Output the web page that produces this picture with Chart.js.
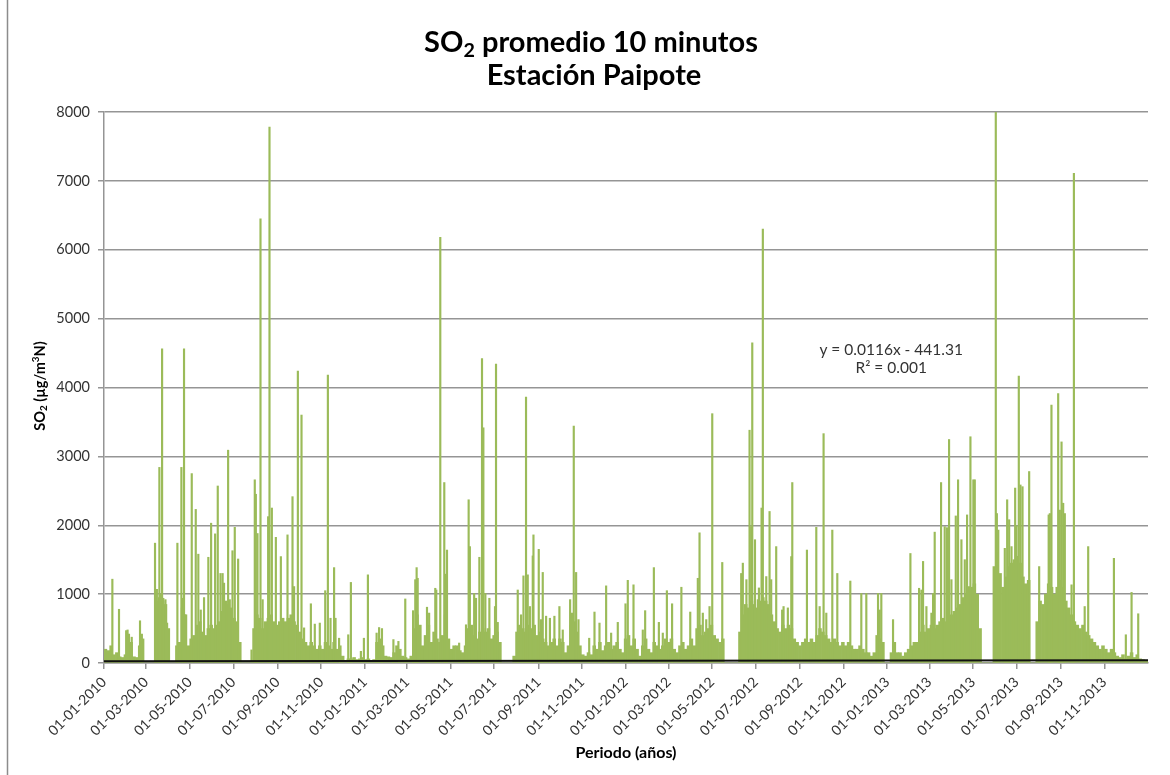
<!DOCTYPE html>
<html lang="es">
<head>
<meta charset="utf-8">
<title>SO2 promedio 10 minutos - Estación Paipote</title>
<script src="https://cdn.jsdelivr.net/npm/chart.js@4.4.1/dist/chart.umd.min.js"></script>
<style>
  html, body { margin: 0; padding: 0; background: #ffffff; }
  #marco { width: 1170px; height: 775px; position: relative; }
</style>
</head>
<body>
<div id="marco"><canvas id="grafico" width="1170" height="775"></canvas></div>
<script>
// Etiquetas del eje de tiempo (cada dos meses)
const etiquetasX = ['01-01-2010','01-03-2010','01-05-2010','01-07-2010','01-09-2010','01-11-2010',
  '01-01-2011','01-03-2011','01-05-2011','01-07-2011','01-09-2011','01-11-2011',
  '01-01-2012','01-03-2012','01-05-2012','01-07-2012','01-09-2012','01-11-2012',
  '01-01-2013','01-03-2013','01-05-2013','01-07-2013','01-09-2013','01-11-2013'];

// Marcas del eje Y (µg/m³N)
const ticksY = [0, 1000, 2000, 3000, 4000, 5000, 6000, 7000, 8000];

// Nivel típico de SO2 en bloques de 4 días, desde el 01-01-2010 (µg/m³N)
const pasoBase = 4;
const nivelBase = [
  200,180,250,120,150,90,80,120,420,300,
  90,80,250,350,0,0,0,0,900,950,
  900,850,500,0,0,250,300,800,700,250,
  350,400,550,600,450,400,500,550,500,550,
  600,750,900,850,800,650,600,300,0,0,
  0,0,500,700,650,500,600,650,700,600,
  550,600,650,600,650,700,600,550,450,350,
  300,250,300,250,200,250,200,300,250,200,
  300,200,250,100,0,60,60,80,50,60,
  80,50,60,30,50,300,350,250,100,90,
  80,150,250,200,100,80,60,100,500,700,
  550,250,400,550,300,450,350,300,400,700,
  350,200,250,250,180,150,250,500,550,400,
  350,450,500,450,500,350,400,450,300,0,
  0,0,0,100,450,550,500,450,550,500,
  550,400,450,350,300,250,300,350,250,350,
  300,150,250,550,600,450,250,120,100,150,
  120,250,200,300,180,250,300,200,250,300,
  200,150,350,400,250,350,200,100,250,350,
  200,150,300,250,200,250,350,300,350,200,
  150,250,300,200,250,350,250,500,550,400,
  450,500,550,400,350,300,350,0,0,0,
  0,0,450,700,850,800,900,850,800,900,
  950,900,850,700,600,500,450,550,500,550,
  500,350,300,250,300,350,300,350,300,400,
  500,450,400,350,300,350,300,250,300,250,
  300,250,200,200,250,200,150,150,100,150,
  400,350,300,0,0,150,300,150,150,100,
  150,200,250,300,300,450,550,450,500,550,
  500,550,600,650,600,650,700,750,800,850,
  950,1000,1050,1100,1150,1000,500,0,0,0,
  0,1400,1600,1300,1100,1250,1400,1450,1500,1550,
  1450,1250,1150,1200,0,0,600,900,850,1000,
  1150,1100,1000,1100,1200,1100,900,800,700,600,
  550,500,550,450,400,350,300,250,200,250,
  200,150,200,150,100,80,120,60,100,150,
  80,120,60,50,40,30
];

// Máximos puntuales: día desde el 01-01-2010 y valor (µg/m³N)
const picosDia = [
  11.7,21,31,33,38.8,50.4,53,
  71.4,74,77.5,78.5,81.3,83,86,88.3,
  102.7,108.3,110,112,113.5,122.8,128.4,132,135.4,140,146,149.9,155.5,159.2,163,166,168,173.7,176,179.8,183,187.7,
  206.4,
  211,212.5,214.8,219,222,229.7,231.6,234.9,240.5,247.5,256.8,263.8,266,271.3,276.4,280,289.5,295,302,309.6,313.3,317,322,324,329,
  341.8,345.5,359.5,363.7,369.3,381.5,385,389,
  405,412,421.6,432.5,435.6,437.5,439,452,455,463.6,465,470.6,476.2,477.6,480,497,506.6,510.3,512,518,520.6,525.3,529,530.9,533.7,539.3,547.2,548.6,551,
  579,583.6,587,590.6,593,596,600,601,608.4,611.6,614,618.7,624,630.3,637.3,642,652.3,655,657.4,660.7,664,679,686.4,693.4,702.7,709.7,719,729.8,
  733,741,754,757.3,769.5,776.5,782,787.7,795,808,820.4,831,833.4,838,842.8,847.4,851.2,865.2,
  891.7,894,899,903.4,905.7,907.2,911,915,916.5,920.2,922,926.8,931.4,933.7,940.7,949,951,957,961.8,963.2,983.7,996.8,1001.5,1007,1010.8,1019.2,1026.2,1044.4,1059.8,1066.8,1083.2,1085.5,1087.8,
  1104.2,1128.5,1140.6,1143.9,1146.2,1150.9,1157.9,1160.2,1162.5,1171.4,1176.5,1179.8,1182.6,1185.9,1192,1195.2,1199.9,1204.6,1207.8,1210.6,1212.5,1216.6,1218.6,
  1248,1249.5,1251.5,1260.6,1263.9,1266.7,1270,1275.1,1277,1280.2,1282.5,1285.4,1294.7,
  1308.7,1322,1323.6,1325.9,1335.3,1337.6,1340,1342.3,1344.6,1354,1357.3,1372.4,1377.3,1413.3,1430,1438,1447.3
];
const picosValor = [
  1217,780,470,480,375,613,420,
  1740,1070,2840,1000,4560,940,920,580,
  1740,2840,940,4560,700,2750,2230,1580,770,950,1535,2030,1875,2570,1300,1300,1160,3090,920,1630,1970,1510,
  190,
  2660,2450,1880,6450,920,2125,7780,2250,1825,1545,1860,2415,1110,4240,3600,510,860,565,580,1050,4180,650,1385,650,360,
  410,1170,170,360,1280,435,515,500,
  340,314,930,760,1210,1385,1230,810,725,1085,1060,6180,2620,1290,1640,290,555,2370,1690,1010,940,1535,4420,3415,1010,940,820,4340,590,
  1060,700,1265,3860,1280,820,1555,1860,1650,630,1315,680,650,680,820,480,920,725,3440,1315,630,360,740,580,1120,435,590,860,
  1200,1135,480,760,1385,590,435,1050,860,1100,740,1230,1890,725,630,820,3620,1460,
  1300,1450,1210,3380,1980,4650,1790,920,1090,2250,6300,1255,2200,1210,1690,770,820,800,1545,2620,1640,1970,820,3330,725,1930,1300,1190,1010,1010,1010,770,1010,
  630,1590,1085,1060,1475,820,725,1010,1900,2620,1980,1965,3245,1210,2135,2660,1790,1500,2150,1110,3285,2660,2660,
  8000,2170,1930,1665,2370,2080,1690,2540,1990,4165,2585,2560,2780,
  1400,2150,2170,3745,3910,2220,3210,2320,2170,1135,7110,820,1690,1520,410,1025,715
];

// Línea de tendencia lineal (x en número de serie de fecha)
const pendiente = 0.0116;
const intercepto = -441.31;
const r2 = 0.001;
const serieInicio = 40179; // 01-01-2010

const inicioMs = Date.UTC(2010, 0, 1);
const totalDias = 1461;
function diaDe(etq) {
  const [d, m, a] = etq.split('-').map(Number);
  return Math.round((Date.UTC(a, m - 1, d) - inicioMs) / 86400000);
}
const diasEtiquetas = etiquetasX.map(diaDe);
const tendencia = d => pendiente * (serieInicio + d) + intercepto;

const verde = '#9bbb59';
const gris = '#959595';
const texto = '#333333';

const datosBase = nivelBase.map((v, i) => ({ x: i * pasoBase + pasoBase / 2, y: v }));
const datosPicos = picosDia.map((d, i) => ({ x: d, y: picosValor[i] }));
const datosTendencia = [0, totalDias].map(d => ({ x: d, y: tendencia(d) }));

function textoRico(ctx, partes, x, y, tam, peso) {
  let ancho = 0;
  partes.forEach(p => {
    const t = (p.sub || p.sup) ? tam * 0.68 : tam;
    ctx.font = `${peso} ${t}px Lato`;
    p.w = ctx.measureText(p.t).width;
    ancho += p.w;
  });
  let cx = x - ancho / 2;
  ctx.textAlign = 'left';
  ctx.textBaseline = 'middle';
  partes.forEach(p => {
    const t = (p.sub || p.sup) ? tam * 0.68 : tam;
    ctx.font = `${peso} ${t}px Lato`;
    const dy = p.sub ? tam * 0.28 : (p.sup ? -tam * 0.32 : 0);
    ctx.fillText(p.t, cx, y + dy);
    cx += p.w;
  });
}

const textos = {
  id: 'textos',
  beforeDraw(chart) {
    const ctx = chart.ctx;
    ctx.save();
    ctx.fillStyle = '#ffffff';
    ctx.fillRect(0, 0, chart.width, chart.height);
    ctx.strokeStyle = '#8c8c8c';
    ctx.lineWidth = 1.5;
    ctx.beginPath();
    ctx.moveTo(7.5, 0);
    ctx.lineTo(7.5, chart.height);
    ctx.stroke();
    ctx.restore();
  },
  afterDraw(chart) {
    const ctx = chart.ctx;
    const a = chart.chartArea;
    ctx.save();
    // Título
    ctx.fillStyle = '#000000';
    textoRico(ctx, [{ t: 'SO' }, { t: '2', sub: true }, { t: ' promedio 10 minutos' }], 591, 43, 29, 'bold');
    textoRico(ctx, [{ t: 'Estación Paipote' }], 594, 76, 29, 'bold');
    // Título eje Y
    ctx.save();
    ctx.translate(40, 386);
    ctx.rotate(-Math.PI / 2);
    textoRico(ctx, [{ t: 'SO' }, { t: '2', sub: true }, { t: ' (µg/m' }, { t: '3', sup: true }, { t: 'N)' }], 0, 0, 14.5, 'bold');
    ctx.restore();
    // Título eje X
    textoRico(ctx, [{ t: 'Periodo (años)' }], 626, 753, 16, 'bold');
    // Ecuación de la tendencia
    ctx.fillStyle = texto;
    const ex = a.left + (a.right - a.left) * 0.754;
    const ey = a.top + (a.bottom - a.top) * 0.432;
    const signo = intercepto < 0 ? '-' : '+';
    textoRico(ctx, [{ t: `y = ${pendiente}x ${signo} ${Math.abs(intercepto)}` }], ex, ey, 15.5, 'normal');
    textoRico(ctx, [{ t: `R² = ${r2.toFixed(3)}` }], ex, ey + 18, 15.5, 'normal');
    ctx.restore();
  }
};

new Chart(document.getElementById('grafico'), {
  type: 'bar',
  data: {
    datasets: [
      {
        type: 'line',
        label: 'Tendencia',
        data: datosTendencia,
        borderColor: '#111111',
        borderWidth: 2,
        pointRadius: 0,
        fill: false,
        order: 0
      },
      {
        label: 'SO2 picos',
        data: datosPicos,
        backgroundColor: verde,
        barThickness: 1.5,
        grouped: false,
        order: 1
      },
      {
        label: 'SO2',
        data: datosBase,
        backgroundColor: verde,
        barThickness: 2.9,
        grouped: false,
        order: 2
      }
    ]
  },
  options: {
    responsive: false,
    animation: false,
    devicePixelRatio: 1,
    layout: { padding: { top: 112, right: 22, left: 0, bottom: 0 } },
    plugins: {
      legend: { display: false },
      tooltip: { enabled: false },
      title: { display: false }
    },
    scales: {
      x: {
        type: 'linear',
        min: 0,
        max: totalDias,
        offset: false,
        afterBuildTicks: axis => { axis.ticks = diasEtiquetas.map(v => ({ value: v })); },
        afterFit: axis => { axis.height = 112; },
        ticks: {
          autoSkip: false,
          minRotation: 45,
          maxRotation: 45,
          padding: 5,
          color: texto,
          font: { family: 'Lato', size: 14 },
          callback: v => etiquetasX[diasEtiquetas.indexOf(v)]
        },
        grid: {
          offset: false,
          drawOnChartArea: false,
          tickLength: 6,
          color: gris,
          lineWidth: 1.5
        },
        border: { color: gris, width: 1.5 }
      },
      y: {
        min: 0,
        max: 8000,
        afterBuildTicks: axis => { axis.ticks = ticksY.map(v => ({ value: v })); },
        afterFit: axis => { axis.width = 104; },
        ticks: {
          padding: 8,
          color: texto,
          font: { family: 'Lato', size: 14.5 },
          callback: v => String(v)
        },
        grid: {
          color: gris,
          lineWidth: 1.5,
          tickLength: 6
        },
        border: { color: gris, width: 1.5 }
      }
    }
  },
  plugins: [textos]
});
</script>
</body>
</html>
